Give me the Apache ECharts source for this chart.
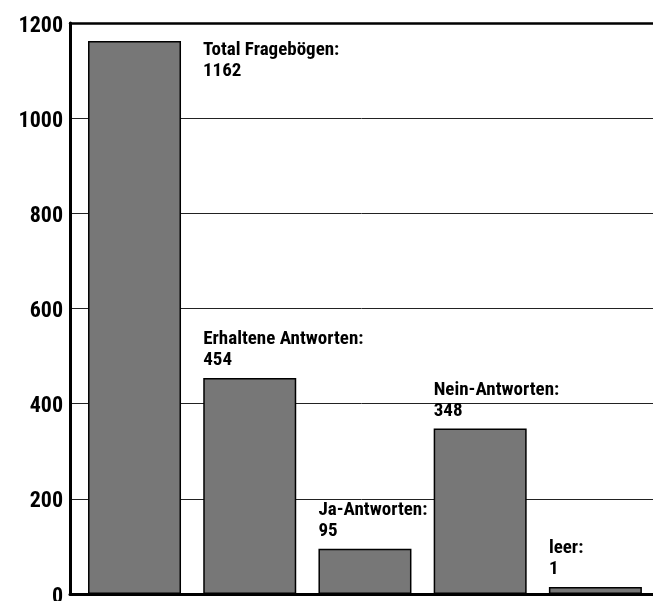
<!DOCTYPE html>
<html>
<head>
<meta charset="utf-8">
<script src="https://cdn.jsdelivr.net/npm/echarts@6/dist/echarts.min.js"></script>
<style>
  html, body { margin: 0; padding: 0; background: #fff; }
  #container { width: 653px; height: 601px; }
</style>
</head>
<body>
<div id="container"></div>
<script>
var categories = ['Total Fragebögen', 'Erhaltene Antworten', 'Ja-Antworten', 'Nein-Antworten', 'leer'];
var values = [1162, 454, 95, 348, 1];
var yTicks = [0, 200, 400, 600, 800, 1000, 1200];

var font = '"Roboto Condensed", "Open Sans Condensed", sans-serif';
var dom = document.getElementById('container');
var myChart = echarts.init(dom);

var barData = values.map(function (v, i) {
    var item = { value: [i, v] };
    // first label sits to the right of the bar, the others above it
    if (i === 0) {
        item.label = { position: [115, -1], verticalAlign: 'top' };
    }
    return item;
});

var option = {
    animation: false,
    grid: { left: 70, right: 0, top: 23, bottom: 7, outerBoundsMode: 'none' },
    xAxis: [{
        type: 'value',
        min: -0.56,
        max: 4.5,
        axisLine: { show: true, onZero: false, lineStyle: { color: '#000', width: 3 } },
        axisTick: { show: false },
        axisLabel: { show: false },
        splitLine: { show: false }
    }, {
        type: 'value',
        position: 'top',
        min: -0.56,
        max: 4.5,
        axisLine: { show: true, onZero: false, lineStyle: { color: '#000', width: 2.5 } },
        axisTick: { show: false },
        axisLabel: { show: false },
        splitLine: { show: false }
    }],
    yAxis: {
        type: 'value',
        min: yTicks[0],
        max: yTicks[yTicks.length - 1],
        interval: 200,
        axisLine: { show: true, onZero: false, lineStyle: { color: '#000', width: 3 } },
        axisTick: { show: false },
        axisLabel: {
            margin: 7,
            formatter: function (v) { return '{t|' + v + '}'; },
            rich: {
                t: {
                    color: '#000',
                    fontFamily: font,
                    fontWeight: 'bold',
                    fontSize: 22,
                    padding: [6, 0, 0, 0]
                }
            }
        },
        splitLine: { show: true, lineStyle: { color: '#222', width: 1 } }
    },
    series: [{
        type: 'bar',
        data: barData,
        barWidth: 93,
        barMinHeight: 7,
        itemStyle: { color: '#777777', borderColor: '#000', borderWidth: 1.5 },
        label: {
            show: true,
            position: [0, -7],
            align: 'left',
            verticalAlign: 'bottom',
            color: '#000',
            fontFamily: font,
            fontWeight: 'bold',
            fontSize: 19,
            lineHeight: 21,
            formatter: function (p) {
                return categories[p.dataIndex] + ':\n' + values[p.dataIndex];
            }
        }
    }]
};
myChart.setOption(option, true);
</script>
</body>
</html>
